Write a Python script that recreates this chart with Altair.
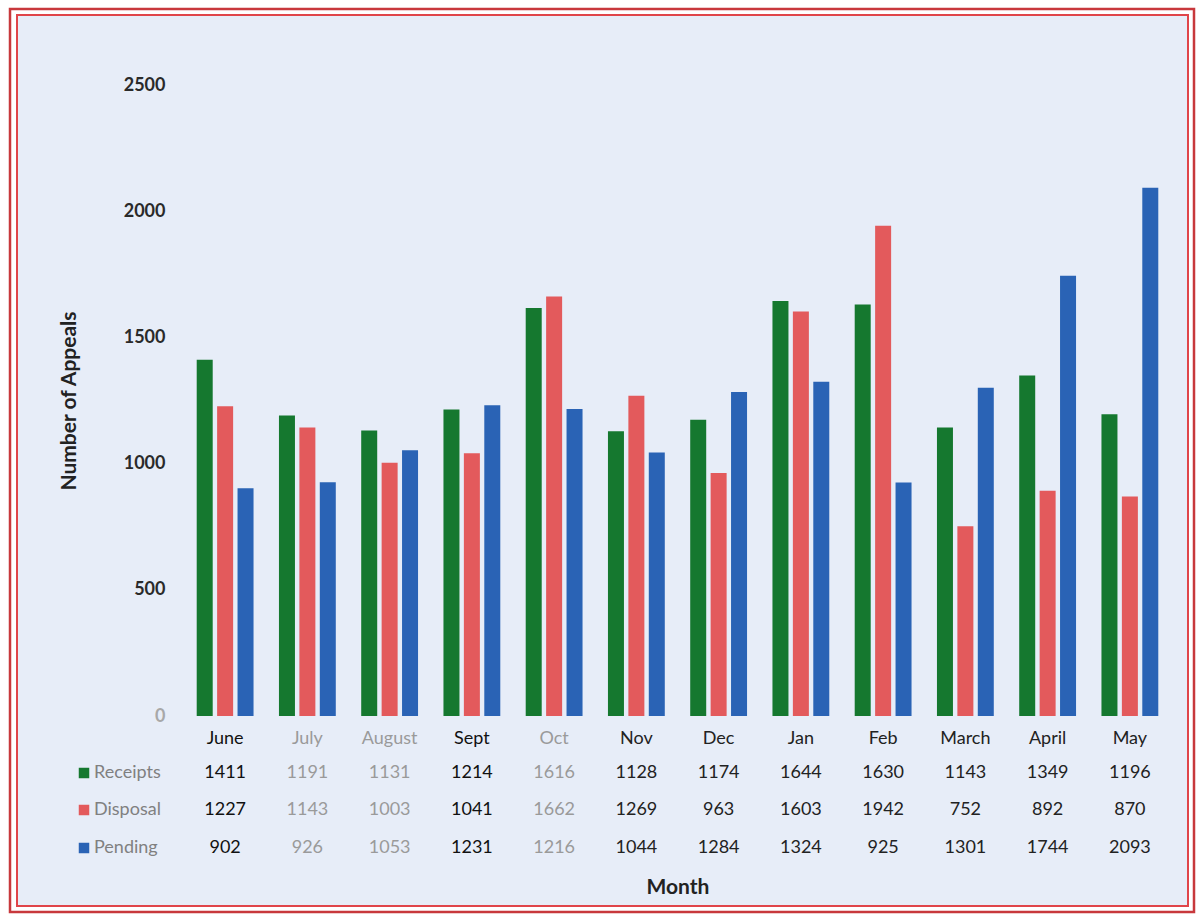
import altair as alt
import pandas as pd

months = ["June", "July", "August", "Sept", "Oct", "Nov", "Dec", "Jan", "Feb", "March", "April", "May"]
series = ["Receipts", "Disposal", "Pending"]
receipts = [1411, 1191, 1131, 1214, 1616, 1128, 1174, 1644, 1630, 1143, 1349, 1196]
disposal = [1227, 1143, 1003, 1041, 1662, 1269, 963, 1603, 1942, 752, 892, 870]
pending = [902, 926, 1053, 1231, 1216, 1044, 1284, 1324, 925, 1301, 1744, 2093]
colors = ["#15782f", "#e35a5c", "#2a63b5"]
# text tone of each table column (scan is faded on some columns)
col_tone = ["#111111", "#9a9a9a", "#9a9a9a", "#111111", "#9a9a9a", "#222222",
            "#222222", "#222222", "#222222", "#222222", "#222222", "#222222"]

W, H = 987, 631
PAD_L, PAD_T = 184, 85

rows = []
for s, vals in zip(series, [receipts, disposal, pending]):
    for i, (m, v) in enumerate(zip(months, vals)):
        rows.append({"month": m, "series": s, "value": v, "tone": col_tone[i]})
df = pd.DataFrame(rows)
mdf = pd.DataFrame({"month": months, "tone": col_tone})
sdf = pd.DataFrame({"series": series})

xenc = alt.X("month:N", sort=months,
             scale=alt.Scale(paddingInner=0.3, paddingOuter=0.15),
             axis=alt.Axis(labels=False, ticks=False, domain=False, title="Month",
                           titleFontSize=21, titleFont="Lato", titleFontWeight="bold",
                           titleColor="#222222", titlePadding=160, zindex=2))
color_scale = alt.Scale(domain=series, range=colors)

# decorative double red frame
frame = pd.DataFrame({"k": [0]})
outer = alt.Chart(frame).mark_rect(fill="#ffffff", stroke="#c8383c", strokeWidth=2.5).encode(
    x=alt.value(10 - PAD_L), x2=alt.value(1194 - PAD_L),
    y=alt.value(9 - PAD_T), y2=alt.value(912 - PAD_T))
inner = alt.Chart(frame).mark_rect(fill="#e7edf8", stroke="#e0454a", strokeWidth=2).encode(
    x=alt.value(17 - PAD_L), x2=alt.value(1188 - PAD_L),
    y=alt.value(15 - PAD_T), y2=alt.value(906 - PAD_T))

bars = alt.Chart(df).mark_bar(size=16).encode(
    x=xenc,
    xOffset=alt.XOffset("series:N", sort=series, scale=alt.Scale(paddingInner=0.18)),
    y=alt.Y("value:Q", scale=alt.Scale(domain=[0, 2500]),
            axis=alt.Axis(values=[0, 500, 1000, 1500, 2000, 2500], format="d", grid=False,
                          ticks=False, domain=False, labelFont="Lato", labelFontSize=18,
                          labelColor={"expr": "datum.value == 0 ? '#a8a8a8' : '#2a2a2a'"},
                          labelFontWeight="bold", labelPadding=19,
                          title="Number of Appeals", titleFont="Lato", titleFontSize=21,
                          titleFontWeight="bold", titleColor="#222222", titlePadding=44,
                          zindex=2)),
    color=alt.Color("series:N", scale=color_scale, legend=None),
)

month_text = alt.Chart(mdf).mark_text(font="Lato", fontSize=18, baseline="middle").encode(
    x=alt.X("month:N", sort=months),
    y=alt.value(739 - PAD_T),
    text="month:N",
    color=alt.Color("tone:N", scale=None),
)

row_y = {"Receipts": 773 - PAD_T, "Disposal": 810 - PAD_T, "Pending": 848 - PAD_T}
value_layers = []
for s in series:
    value_layers.append(
        alt.Chart(df[df.series == s]).mark_text(font="Lato", fontSize=18, baseline="middle").encode(
            x=alt.X("month:N", sort=months),
            y=alt.value(row_y[s]),
            text=alt.Text("value:Q"),
            color=alt.Color("tone:N", scale=None),
        )
    )
    value_layers.append(
        alt.Chart(sdf[sdf.series == s]).mark_square(size=110, opacity=1).encode(
            x=alt.value(84 - PAD_L), y=alt.value(row_y[s]),
            color=alt.Color("series:N", scale=color_scale, legend=None),
        )
    )
    value_layers.append(
        alt.Chart(sdf[sdf.series == s]).mark_text(font="Lato", fontSize=18, align="left",
                                                   baseline="middle", color="#808080").encode(
            x=alt.value(94 - PAD_L), y=alt.value(row_y[s]), text="series:N",
        )
    )

chart = alt.layer(outer, inner, bars, month_text, *value_layers).resolve_scale(
    color="independent"
).properties(
    width=W, height=H,
    padding={"left": PAD_L, "top": PAD_T, "right": 1199 - PAD_L - W, "bottom": 916 - PAD_T - H},
    autosize=alt.AutoSizeParams(type="none"),
    background="#ffffff",
).configure_view(stroke=None)

chart.save("out.html", embed_options={"renderer": "svg", "actions": False})
